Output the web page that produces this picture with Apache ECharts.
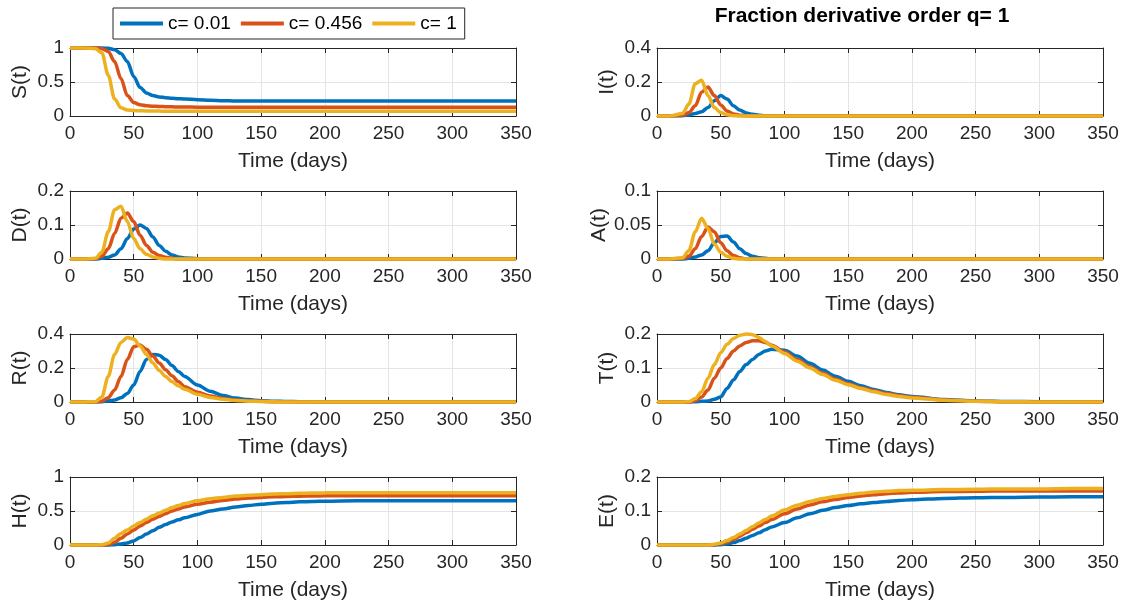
<!DOCTYPE html>
<html>
<head>
<meta charset="utf-8">
<script src="https://cdn.jsdelivr.net/npm/echarts@6/dist/echarts.min.js"></script>
<style>html,body{margin:0;padding:0;background:#fff}#main{width:1128px;height:609px}</style>
</head>
<body>
<div id="main"></div>
<script>
var days = [0,10,20, 25,30,35,40,45,50,55,60,65,70,75,80,85,90, 100,110,120,130,140,150,160,170,180,190,200, 225,250,275,300,325,350];
var names = ['c= 0.01', 'c= 0.456', 'c= 1'];
var colors = ['#0072BD', '#D95319', '#EDB120'];

// S(t)
var S1 = [1,1,1, 1,.995,.975,.92,.8,.58,.42,.34,.3,.28,.27,.26,.255,.25, .24,.23,.225,.22,.22,.22,.22,.22,.22,.22,.22, .22,.22,.22,.22,.22,.22];
var S2 = [1,1,1, .99,.95,.8,.55,.3,.2,.165,.15,.145,.14,.137,.135,.133,.132, .13,.13,.13,.13,.13,.13,.13,.13,.13,.13,.13, .13,.13,.13,.13,.13,.13];
var S3 = [1,1,.99, .93,.6,.25,.12,.09,.08,.078,.075,.073,.072,.071,.07,.07,.07, .07,.07,.07,.07,.07,.07,.07,.07,.07,.07,.07, .07,.07,.07,.07,.07,.07];
// I(t)
var I1 = [0,0,.002, .006,.015,.025,.05,.09,.12,.1,.06,.035,.018,.01,.005,.002,.001, 0,0,0,0,0,0,0,0,0,0,0, 0,0,0,0,0,0];
var I2 = [0,0,.005, .02,.06,.14,.17,.12,.065,.03,.012,.005,.002,0,0,0,0, 0,0,0,0,0,0,0,0,0,0,0, 0,0,0,0,0,0];
var I3 = [0,0,.015, .07,.19,.21,.12,.05,.02,.007,.002,0,0,0,0,0,0, 0,0,0,0,0,0,0,0,0,0,0, 0,0,0,0,0,0];
// D(t)
var D1 = [0,0,0, .002,.005,.012,.03,.06,.088,.1,.09,.065,.04,.023,.012,.006,.003, .001,0,0,0,0,0,0,0,0,0,0, 0,0,0,0,0,0];
var D2 = [0,0,.001, .008,.03,.075,.12,.135,.11,.07,.04,.02,.01,.005,.002,0,0, 0,0,0,0,0,0,0,0,0,0,0, 0,0,0,0,0,0];
var D3 = [0,0,.002, .02,.08,.145,.155,.11,.06,.03,.014,.006,.002,0,0,0,0, 0,0,0,0,0,0,0,0,0,0,0, 0,0,0,0,0,0];
// A(t)
var A1 = [0,0,0, .001,.003,.006,.012,.024,.033,.034,.025,.015,.008,.004,.002,.001,0, 0,0,0,0,0,0,0,0,0,0,0, 0,0,0,0,0,0];
var A2 = [0,0,.001, .004,.015,.033,.047,.04,.024,.012,.005,.002,0,0,0,0,0, 0,0,0,0,0,0,0,0,0,0,0, 0,0,0,0,0,0];
var A3 = [0,0,.002, .012,.04,.06,.045,.022,.01,.004,.001,0,0,0,0,0,0, 0,0,0,0,0,0,0,0,0,0,0, 0,0,0,0,0,0];
// R(t)
var R1 = [0,0,0, .002,.006,.012,.025,.05,.1,.18,.25,.28,.275,.25,.215,.18,.15, .1,.063,.038,.023,.014,.008,.005,.003,.002,.001,0, 0,0,0,0,0,0];
var R2 = [0,0,.001, .005,.025,.07,.15,.25,.325,.335,.31,.27,.23,.19,.155,.12,.09, .058,.035,.021,.012,.007,.004,.002,.001,0,0,0, 0,0,0,0,0,0];
var R3 = [0,0,.002, .03,.15,.28,.35,.38,.37,.33,.28,.23,.185,.15,.12,.095,.075, .045,.027,.016,.009,.005,.003,.001,0,0,0,0, 0,0,0,0,0,0];
// T(t)
var T1 = [0,0,0, 0,.001,.002,.003,.008,.015,.04,.065,.09,.11,.125,.14,.15,.155, .152,.135,.114,.094,.076,.061,.048,.037,.028,.021,.016, .007,.003,.0015,.001,0,0];
var T2 = [0,0,0, 0,.004,.015,.035,.07,.1,.128,.15,.165,.175,.18,.18,.175,.167, .147,.125,.104,.085,.068,.054,.042,.033,.025,.019,.014, .006,.0025,.001,0,0,0];
var T3 = [0,0,0, .001,.01,.03,.07,.11,.145,.17,.187,.196,.2,.198,.19,.178,.165, .143,.12,.1,.081,.064,.051,.04,.03,.022,.016,.012, .005,.002,.001,0,0,0];
// H(t)
var H1 = [0,0,0, 0,0,.005,.015,.03,.06,.11,.16,.21,.26,.3,.34,.37,.4, .45,.5,.53,.56,.58,.6,.615,.625,.635,.64,.645, .65,.65,.652,.652,.652,.652];
var H2 = [0,0,0, 0,.01,.04,.1,.16,.22,.28,.33,.38,.42,.46,.5,.53,.56, .6,.63,.655,.675,.69,.7,.708,.714,.718,.721,.723, .725,.725,.725,.725,.725,.725];
var H3 = [0,0,0, .005,.03,.1,.17,.22,.28,.33,.38,.43,.47,.51,.55,.58,.61, .65,.68,.7,.72,.73,.74,.75,.755,.76,.765,.767, .77,.77,.77,.77,.77,.77];
// E(t)
var E1 = [0,0,0, 0,0,0,0,0,.001,.003,.007,.013,.02,.028,.036,.045,.053, .066,.08,.092,.102,.11,.116,.121,.125,.128,.131,.133, .137,.139,.14,.141,.142,.142];
var E2 = [0,0,0, 0,0,0,0,.001,.004,.009,.017,.026,.036,.046,.056,.066,.075, .092,.106,.118,.127,.134,.14,.144,.148,.151,.153,.155, .157,.158,.159,.159,.159,.159];
var E3 = [0,0,0, 0,0,0,0,.002,.006,.013,.022,.032,.043,.054,.065,.075,.085, .103,.117,.128,.137,.143,.148,.152,.156,.158,.16,.161, .163,.164,.165,.165,.166,.166];

var panels = [
  {name: 'S(t)', lines: [S1, S2, S3], max: 1, step: 0.5},
  {name: 'I(t)', lines: [I1, I2, I3], max: 0.4, step: 0.2},
  {name: 'D(t)', lines: [D1, D2, D3], max: 0.2, step: 0.1},
  {name: 'A(t)', lines: [A1, A2, A3], max: 0.1, step: 0.05},
  {name: 'R(t)', lines: [R1, R2, R3], max: 0.4, step: 0.2},
  {name: 'T(t)', lines: [T1, T2, T3], max: 0.2, step: 0.1},
  {name: 'H(t)', lines: [H1, H2, H3], max: 1, step: 0.5},
  {name: 'E(t)', lines: [E1, E2, E3], max: 0.2, step: 0.1}
];

var FONT = 'Liberation Sans, Arial, sans-serif';
var INK = '#262626';
var gridLefts = [70, 657], gridTops = [48, 191, 334, 477];

var chart = echarts.init(document.getElementById('main'));
var grids = [], xAxes = [], yAxes = [], series = [];

panels.forEach(function (p, i) {
  grids.push({left: gridLefts[i % 2], top: gridTops[Math.floor(i / 2)], width: 446, height: 68});
  var tick = {show: true, inside: true, length: 5, lineStyle: {color: INK}};
  var line = {show: true, onZero: false, lineStyle: {color: INK, width: 1}};
  xAxes.push({
    gridIndex: i, type: 'value', min: 0, max: 350, interval: 50,
    name: 'Time (days)', nameLocation: 'middle', nameGap: 35,
    nameTextStyle: {fontSize: 21, color: INK, fontFamily: FONT},
    axisLine: line, axisTick: tick,
    axisLabel: {fontSize: 19, color: INK, fontFamily: FONT, margin: 8},
    splitLine: {show: true, lineStyle: {color: '#e4e4e4'}}
  });
  yAxes.push({
    gridIndex: i, type: 'value', min: 0, max: p.max, interval: p.step,
    name: p.name, nameLocation: 'middle', nameGap: 39,
    nameTextStyle: {fontSize: 21, color: INK, fontFamily: FONT},
    axisLine: line, axisTick: tick,
    axisLabel: {fontSize: 19, color: INK, fontFamily: FONT, margin: 6},
    splitLine: {show: true, lineStyle: {color: '#e4e4e4'}}
  });
  p.lines.forEach(function (vals, k) {
    series.push({
      name: names[k], type: 'line', xAxisIndex: i, yAxisIndex: i,
      data: days.map(function (d, j) { return [d, vals[j]]; }),
      showSymbol: false, symbol: 'none', smooth: 0.3, smoothMonotone: 'x',
      clip: false, color: colors[k],
      lineStyle: {width: 3.5, color: colors[k]}
    });
  });
});

// mirrored axes for the box ticks on top / right
panels.forEach(function (p, i) {
  var tick = {show: true, inside: true, length: 5, lineStyle: {color: INK}};
  var line = {show: true, onZero: false, lineStyle: {color: INK, width: 1}};
  xAxes.push({gridIndex: i, type: 'value', position: 'top', min: 0, max: 350, interval: 50,
    axisLine: line, axisTick: tick, axisLabel: {show: false}, splitLine: {show: false}});
  yAxes.push({gridIndex: i, type: 'value', position: 'right', min: 0, max: p.max, interval: p.step,
    axisLine: line, axisTick: tick, axisLabel: {show: false}, splitLine: {show: false}});
});

chart.setOption({
  animation: false,
  backgroundColor: '#fff',
  grid: grids,
  xAxis: xAxes,
  yAxis: yAxes,
  legend: {
    data: names, left: 113, top: 8, orient: 'horizontal',
    icon: 'rect', itemWidth: 43, itemHeight: 4, itemGap: 10,
    padding: [6, 8, 6, 7], borderColor: INK, borderWidth: 1, backgroundColor: '#fff',
    textStyle: {fontSize: 19, color: '#000', fontFamily: FONT}
  },
  graphic: [{
    type: 'text', x: 862, y: 16,
    style: {text: 'Fraction derivative order q= 1', font: 'bold 21px ' + FONT,
      fill: '#000', textAlign: 'center', textVerticalAlign: 'middle'}
  }],
  series: series
});
</script>
</body>
</html>
